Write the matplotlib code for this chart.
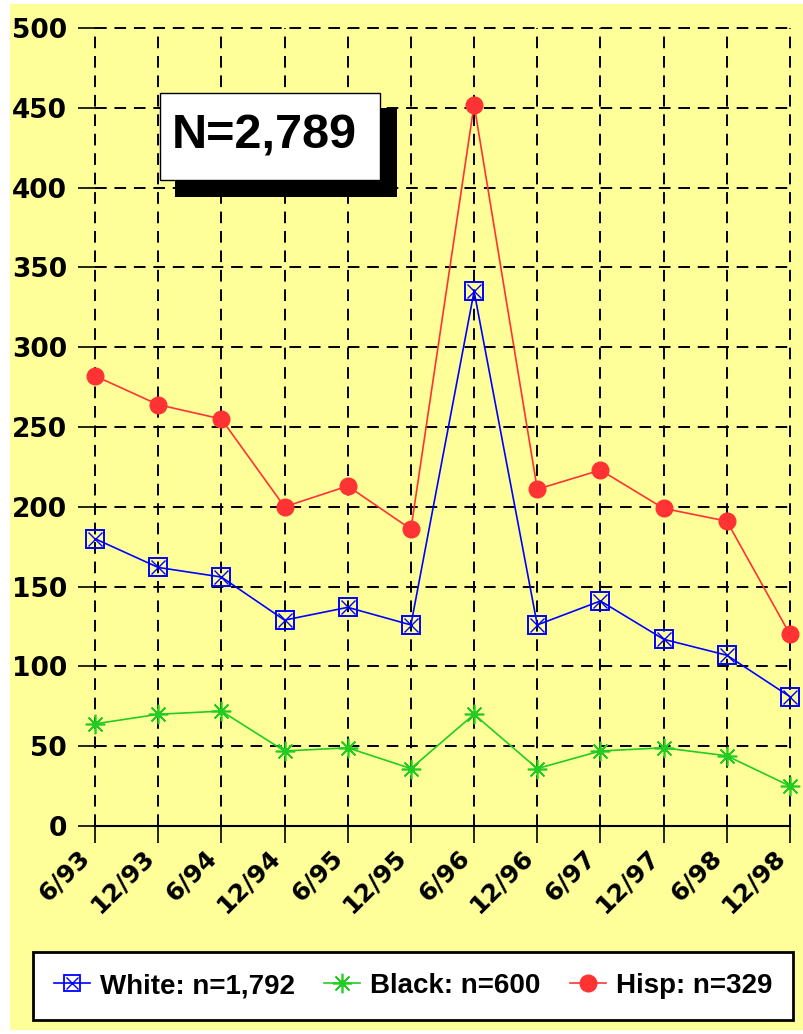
import matplotlib.pyplot as plt
from matplotlib.patches import Rectangle
from matplotlib.legend_handler import HandlerTuple

periodos = ['6/93', '12/93', '6/94', '12/94', '6/95', '12/95',
            '6/96', '12/96', '6/97', '12/97', '6/98', '12/98']
white = [180, 162, 156, 129, 137, 126, 335, 126, 141, 117, 107, 81]
black = [64, 70, 72, 47, 49, 36, 70, 36, 47, 49, 44, 25]
hisp = [282, 264, 255, 200, 213, 186, 452, 211, 223, 199, 191, 120]
y_ticks = [0, 50, 100, 150, 200, 250, 300, 350, 400, 450, 500]

AMARELO = '#FFFF99'
AZUL, VERDE, VERMELHO = '#0000FF', '#22CC22', '#FF3333'
W, H = 804, 1034

fig = plt.figure(figsize=(W / 100, H / 100), dpi=100)
fig.patch.set_facecolor('white')
fig.patches.append(Rectangle((10 / W, 4 / H), 1 - 10 / W, 1 - 8 / H,
                             transform=fig.transFigure, facecolor=AMARELO,
                             edgecolor='none', zorder=-10))

ax = fig.add_axes([95 / W, 208 / H, 695 / W, 798 / H])
ax.set_zorder(1)
ax.set_facecolor('none')
x = list(range(len(periodos)))

ax.plot(x, hisp, color=VERMELHO, linewidth=1.2, marker='o', markersize=12,
        markeredgecolor=VERMELHO, clip_on=False, zorder=4)
ax.plot(x, black, color=VERDE, linewidth=1.2, marker=(8, 2, 0),
        markersize=14, markeredgewidth=1.2, clip_on=False, zorder=4)
ax.plot(x, black, linestyle='none', marker='o', color=VERDE, markersize=4,
        clip_on=False, zorder=4)
ax.plot(x, white, color=AZUL, linewidth=1.2, marker='s', markersize=13,
        markerfacecolor='none', markeredgewidth=1.4, clip_on=False, zorder=5)
ax.plot(x, white, linestyle='none', marker='x', color=AZUL, markersize=10,
        markeredgewidth=1.0, clip_on=False, zorder=5)

ax.set_xlim(0, 11)
ax.set_ylim(0, 500)
ax.set_xticks(x)
ax.set_xticklabels(periodos, rotation=45, ha='right', va='top',
                   fontsize=18, fontweight='bold')
ax.set_yticks(y_ticks)
ax.set_yticklabels([str(v) for v in y_ticks], fontsize=19, fontweight='bold')
ax.tick_params(axis='both', direction='out', length=12, width=1.2, color='black')
ax.tick_params(axis='x', pad=2)
ax.tick_params(axis='y', pad=8)

ax.grid(True, color='black', linestyle=(0, (6, 4)), linewidth=1.4)
ax.set_axisbelow(True)
for g in ax.get_xgridlines() + ax.get_ygridlines():
    g.set_clip_on(False)
for lado in ['top', 'right', 'left']:
    ax.spines[lado].set_visible(False)
ax.spines['bottom'].set_linewidth(1.5)

# caixa N=2,789 com sombra
ax.add_patch(Rectangle((175 / W, 1 - 197 / H), 222 / W, 89 / H,
                       transform=fig.transFigure, facecolor='black',
                       edgecolor='none', zorder=10, clip_on=False))
ax.add_patch(Rectangle((160 / W, 1 - 180 / H), 220 / W, 87 / H,
                       transform=fig.transFigure, facecolor='white',
                       edgecolor='black', linewidth=1, zorder=11, clip_on=False))
ax.text(264 / W, 1 - 136 / H, 'N=2,789', fontsize=35, fontweight='bold',
        family='Liberation Sans', ha='center', va='center', zorder=12,
        transform=fig.transFigure)

# legenda
h_white_s, = ax.plot([], [], color=AZUL, linewidth=1.2, marker='s',
                     markersize=11, markerfacecolor='none', markeredgewidth=1.3)
h_white_x, = ax.plot([], [], color=AZUL, linestyle='none', marker='x',
                     markersize=8, markeredgewidth=1.0)
h_black_a, = ax.plot([], [], color=VERDE, linewidth=1.2, marker=(8, 2, 0),
                     markersize=14, markeredgewidth=1.2)
h_black_c, = ax.plot([], [], color=VERDE, linestyle='none', marker='o',
                     markersize=4)
h_hisp, = ax.plot([], [], color=VERMELHO, linewidth=1.2, marker='o',
                  markersize=12)

leg = fig.legend([(h_white_s, h_white_x), (h_black_a, h_black_c), h_hisp],
                 ['White: n=1,792', 'Black: n=600', 'Hisp: n=329'],
                 handler_map={tuple: HandlerTuple(ndivide=1, pad=0)},
                 loc='lower left', ncol=3, mode='expand', borderaxespad=0,
                 bbox_to_anchor=(33 / W, 1 - 1020 / H, 760 / W, 69 / H),
                 prop={'weight': 'bold', 'size': 20, 'family': 'Liberation Sans'},
                 frameon=True, fancybox=False, edgecolor='black',
                 handlelength=1.3, handletextpad=0.35, columnspacing=0.8,
                 borderpad=0.75)
leg.get_frame().set_linewidth(2)
leg.get_frame().set_facecolor('white')
leg.get_frame().set_alpha(1)
leg.set_zorder(20)

fig.savefig('out.png', dpi=100)
